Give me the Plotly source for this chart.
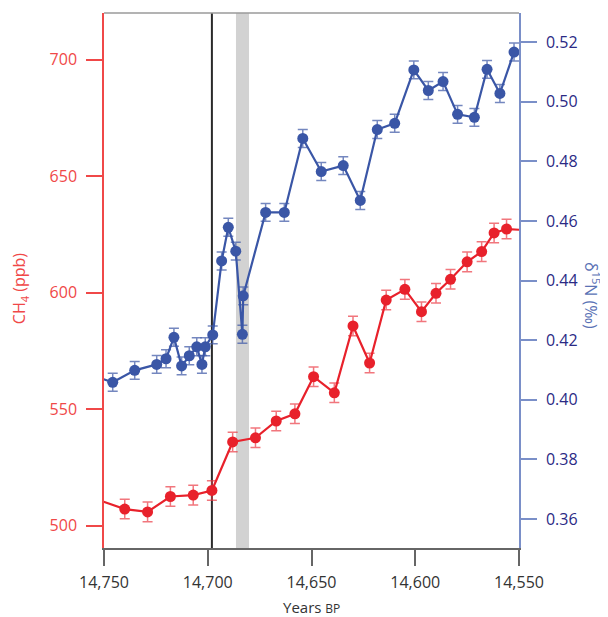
import plotly.graph_objects as go

# CH4 (ppb) record
ch4_years = [14760, 14740, 14729, 14718, 14707, 14698, 14688, 14677, 14667, 14658,
             14649, 14639, 14630, 14622, 14614, 14605, 14597, 14590, 14583, 14575,
             14568, 14562, 14556, 14545]
ch4_vals = [513.4, 507.2, 506.0, 512.6, 513.2, 515.2, 536.0, 537.8, 545.0, 548.1,
            564.0, 557.1, 585.8, 569.9, 596.9, 601.5, 591.9, 599.8, 605.8, 613.3,
            617.7, 625.7, 627.4, 626.8]
ch4_err = [4.2] * len(ch4_vals)

# d15N (permil) record
n15_years = [14755, 14745.8, 14735.2, 14724.6, 14720.1, 14716.3, 14712.6, 14708.9, 14705.3,
             14702.8, 14701.2, 14697.6, 14693.3, 14690.1, 14686.5, 14683.3, 14682.9,
             14672.1, 14663.1, 14654.2, 14645.3, 14634.7, 14626.5, 14618.3, 14609.9,
             14600.7, 14593.7, 14586.6, 14579.6, 14571.5, 14565.4, 14559.2, 14552.4]
n15_vals = [0.4081, 0.4059, 0.4099, 0.4119, 0.4138, 0.4210, 0.4114, 0.4148, 0.4178,
            0.4119, 0.4178, 0.4218, 0.4466, 0.4579, 0.4499, 0.4220, 0.4349,
            0.4629, 0.4629, 0.4877, 0.4766, 0.4786, 0.4669, 0.4907, 0.4928,
            0.5107, 0.5038, 0.5068, 0.4958, 0.4948, 0.5109, 0.5028, 0.5167]
n15_err = [0.003] * len(n15_vals)

# event markers
event_line_year = 14698
band_years = [14686.4, 14680.1]

x_ticks = [14750, 14700, 14650, 14600, 14550]
ch4_ticks = [500, 550, 600, 650, 700]
n15_ticks = [0.36, 0.38, 0.40, 0.42, 0.44, 0.46, 0.48, 0.50, 0.52]

RED = "#E8212B"
RED_AX = "#F04848"
BLUE = "#3A56A6"
BLUE_AX = "#7A8FC8"
NAVY = "#2B2A85"
FONT = "Open Sans"

fig = go.Figure()

fig.add_trace(go.Scatter(
    x=n15_years, y=n15_vals, yaxis="y2", mode="lines+markers",
    line=dict(color=BLUE, width=2.2),
    marker=dict(color=BLUE, size=11),
    error_y=dict(type="data", array=n15_err, visible=True,
                 color="rgba(70,95,170,0.75)", thickness=1.5, width=5),
    showlegend=False,
))

fig.add_trace(go.Scatter(
    x=ch4_years, y=ch4_vals, yaxis="y", mode="lines+markers",
    line=dict(color=RED, width=2.2),
    marker=dict(color=RED, size=11),
    error_y=dict(type="data", array=ch4_err, visible=True,
                 color="rgba(235,60,70,0.7)", thickness=1.5, width=5),
    showlegend=False,
))

fig.add_shape(type="rect", xref="x", yref="paper",
              x0=band_years[0], x1=band_years[1], y0=0, y1=1,
              fillcolor="#D2D2D2", line=dict(width=0), layer="below")
fig.add_shape(type="line", xref="x", yref="paper",
              x0=event_line_year, x1=event_line_year, y0=0, y1=1,
              line=dict(color="#2a2a2a", width=2), layer="below")
fig.add_shape(type="line", xref="paper", yref="paper",
              x0=0, x1=1, y0=1, y1=1,
              line=dict(color="#9a9a9a", width=1.5))

fig.add_annotation(xref="paper", yref="paper", x=-0.202, y=0.486,
                   xanchor="center", yanchor="middle",
                   text="CH<sub>4</sub> (ppb)", textangle=-90, showarrow=False,
                   font=dict(family=FONT, size=16, color=RED_AX))
fig.add_annotation(xref="paper", yref="paper", x=1.176, y=0.473,
                   xanchor="center", yanchor="middle",
                   text="δ<sup>15</sup>N (‰)", textangle=90, showarrow=False,
                   font=dict(family=FONT, size=16, color="#5A72B5"))
fig.add_annotation(xref="paper", yref="paper", x=0.499, y=-0.111,
                   xanchor="center", yanchor="middle",
                   text="Years <span style='font-size:12px'>BP</span>", showarrow=False,
                   font=dict(family=FONT, size=15, color="#333333"))

fig.update_layout(
    width=600, height=609,
    margin=dict(l=96, r=89, t=5, b=69),
    paper_bgcolor="white", plot_bgcolor="white",
    font=dict(family=FONT, size=16, color="#333333"),
    xaxis=dict(
        range=[14750, 14550], tickvals=x_ticks, tickformat=",d",
        automargin=False,
        showgrid=False, zeroline=False,
        showline=True, linecolor="#666666", linewidth=1.5,
        ticks="outside", ticklen=16, tickcolor="#666666", tickwidth=1.5,
        ticklabelstandoff=3,
        tickfont=dict(family=FONT, size=16, color="#333333"),
    ),
    yaxis=dict(
        range=[490.5, 720.1], tickvals=ch4_ticks,
        automargin=False,
        showgrid=False, zeroline=False,
        showline=True, linecolor=RED_AX, linewidth=1.5,
        ticks="outside", ticklen=16, tickcolor=RED_AX, tickwidth=1.5,
        ticklabelstandoff=6,
        tickfont=dict(family=FONT, size=16, color=RED_AX),
    ),
    yaxis2=dict(
        range=[0.3503, 0.5298], tickvals=n15_ticks, tickformat=".2f",
        overlaying="y", side="right", automargin=False,
        showgrid=False, zeroline=False,
        showline=True, linecolor=BLUE_AX, linewidth=1.5,
        ticks="outside", ticklen=16, tickcolor=BLUE_AX, tickwidth=1.5,
        ticklabelstandoff=6,
        tickfont=dict(family=FONT, size=16, color=NAVY),
    ),
)

fig.write_html("out.html")
